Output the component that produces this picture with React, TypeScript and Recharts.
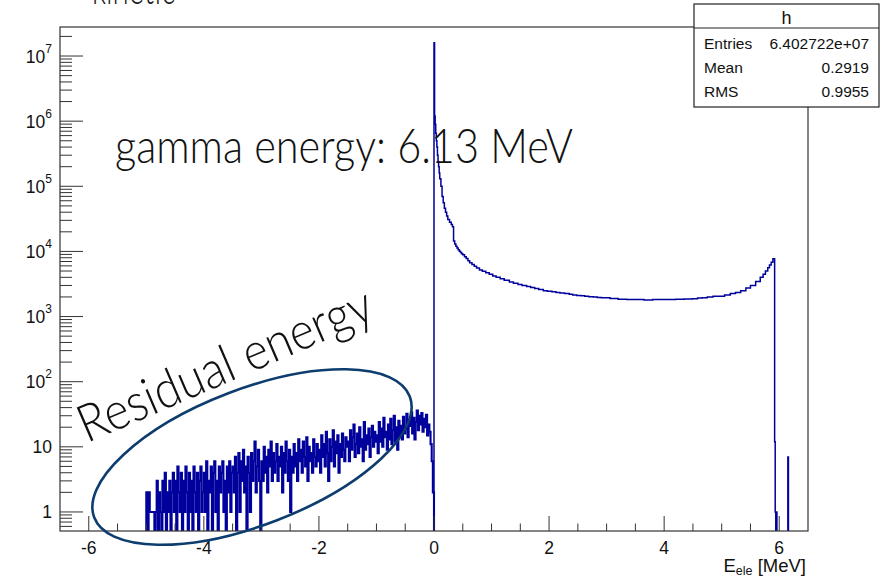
import React from 'react';
import { ComposedChart, Line, XAxis, YAxis } from 'recharts';

const W = 883;
const H = 577;
const PLOT = { left: 60, top: 27, right: 808, bottom: 531 };

// residual side: 0.02 MeV bins starting at -5.00 MeV
const negStart = -5.0;
const negWidth = 0.02;
const negSeg1 = [2, 0, 2, 1, 1, 1, 1, 0, 1, 3, 0, 2, 1, 0, 3, 1, 4, 0, 2, 1, 3, 0, 2, 4, 1];
const negSeg2 = [3, 0, 5, 2, 1, 4, 0, 3, 1, 5, 2, 0, 4, 1, 3, 0, 5, 2, 1, 4, 0, 3, 5, 1, 2];
const negSeg3 = [4, 1, 6, 0, 3, 2, 5, 0, 4, 6, 1, 3, 0, 5, 2, 4, 6, 1, 3, 0, 5, 2, 6, 1, 4];
const negSeg4 = [5, 2, 7, 0, 4, 8, 1, 6, 3, 9, 2, 5, 0, 7, 4, 1, 8, 3, 6, 12, 2, 5, 9, 3, 0];
const negSeg5 = [6, 3, 10, 4, 7, 2, 9, 5, 12, 3, 8, 4, 6, 11, 3, 7, 5, 10, 2, 8, 4, 12, 6, 3, 9];
const negSeg6 = [1, 7, 4, 11, 5, 8, 3, 13, 6, 9, 4, 12, 7, 5, 14, 3, 10, 6, 8, 4, 13, 7, 5, 11, 6];
const negSeg7 = [9, 4, 15, 7, 11, 5, 17, 8, 3, 13, 6, 10, 18, 5, 12, 8, 15, 4, 11, 7, 16, 9, 6, 14, 10];
const negSeg8 = [12, 6, 18, 9, 14, 22, 7, 11, 16, 8, 20, 10, 13, 6, 24, 9, 15, 11, 19, 7, 14, 21, 10, 17, 12];
const negSeg9 = [15, 8, 24, 12, 19, 10, 28, 14, 17, 9, 22, 13, 27, 11, 18, 30, 12, 20, 9, 25, 15, 21, 13, 29, 16];
const negSeg10 = [19, 32, 14, 26, 21, 34, 16, 28, 13, 24, 36, 18, 30, 22, 33, 17, 27, 20, 31, 15, 22, 17, 11, 6, 2];

// electron side: bin lower edge (MeV) and content
const posEdges = [
  0.0, 0.01, 0.02, 0.03, 0.04, 0.05, 0.06, 0.07, 0.08, 0.09, 0.1, 0.12, 0.14, 0.16, 0.18, 0.2,
  0.22, 0.24, 0.27, 0.3, 0.32, 0.34, 0.36, 0.38, 0.4, 0.42, 0.44, 0.46, 0.48, 0.5, 0.53, 0.56,
  0.59, 0.62, 0.66, 0.7, 0.74, 0.79, 0.84, 0.9, 0.96, 1.02, 1.08, 1.15, 1.22, 1.31, 1.38, 1.46,
  1.53, 1.61, 1.68, 1.75, 1.82, 1.9, 1.97, 2.05, 2.12, 2.19, 2.27, 2.35, 2.41, 2.48, 2.55, 2.62,
  2.69, 2.77, 2.84, 2.91, 3.06, 3.2, 3.35, 3.5, 3.65, 3.8, 3.95, 4.08, 4.2, 4.35, 4.49, 4.58,
  4.66, 4.75, 4.85, 4.95, 5.05, 5.15, 5.24, 5.33, 5.42, 5.5, 5.59, 5.67, 5.72, 5.76, 5.8, 5.83,
  5.86, 5.89, 5.92, 5.93, 5.94, 5.95, 5.96, 6.15, 6.16,
];
const posCounts = [
  1.6e7, 1.2e6, 9.0e5, 6.5e5, 5.0e5, 4.0e5, 3.0e5, 2.4e5, 2.0e5, 1.6e5, 1.3e5, 1.0e5, 7.0e4, 5.6e4, 4.6e4, 4.0e4,
  3.5e4, 3.1e4, 2.8e4, 2.6e4, 2.4e4, 1.45e4, 1.3e4, 1.2e4, 11300, 10600, 10100, 9600, 9200, 8900, 8300, 7800,
  7200, 6700, 6300, 5900, 5550, 5200, 4950, 4700, 4450, 4200, 4000, 3800, 3600, 3400, 3250, 3100,
  3000, 2900, 2800, 2700, 2600, 2500, 2450, 2400, 2350, 2300, 2250, 2200, 2150, 2100, 2080, 2050,
  2020, 2000, 1970, 1950, 1900, 1850, 1820, 1820, 1800, 1820, 1820, 1820, 1840, 1860, 1880, 1920,
  1950, 2000, 2050, 2050, 2150, 2250, 2350, 2500, 2750, 3000, 3450, 4000, 4450, 5000, 5600, 6200,
  6800, 7700, 12, 1, 0, 1, 0, 7, 0,
];

const xMajor = [-6, -4, -2, 0, 2, 4, 6];
const xTicks = [-6, -5.5, -5, -4.5, -4, -3.5, -3, -2.5, -2, -1.5, -1, -0.5, 0, 0.5, 1, 1.5, 2, 2.5, 3, 3.5, 4, 4.5, 5, 5.5, 6];
const yMajor = [1, 10, 100, 1e3, 1e4, 1e5, 1e6, 1e7];
const yMinorSteps = [2, 3, 4, 5, 6, 7, 8, 9];
const yLowMinor = [0.6, 0.7, 0.8, 0.9];

const EMPTY = 0.05; // empty bins drop below the log axis

const negCounts = [...negSeg1, ...negSeg2, ...negSeg3, ...negSeg4, ...negSeg5, ...negSeg6, ...negSeg7, ...negSeg8, ...negSeg9, ...negSeg10];
const negData = [
  { e: -6.5, n: EMPTY },
  ...negCounts.map((c, i) => ({ e: +(negStart + i * negWidth).toFixed(2), n: c > 0 ? c : EMPTY })),
  { e: 0, n: EMPTY },
];
const posData = [
  { e: 0, n: EMPTY },
  ...posEdges.map((e, i) => ({ e, n: posCounts[i] > 0 ? posCounts[i] : EMPTY })),
  { e: 6.5, n: EMPTY },
];

const yTicks = [...yLowMinor, ...yMajor, ...yMajor.flatMap(d => yMinorSteps.map(s => s * d))]
  .filter(v => v <= 2.79e7)
  .sort((a, b) => a - b);

const AXIS_FONT = "'Liberation Sans', Arial, Helvetica, sans-serif";
const NOTE_FONT = "'Lato', 'Noto Sans', sans-serif";
const INK = '#333';
const HIST = '#00009c';

const XTick = (props: any) => {
  const { x, payload } = props;
  const v = payload.value;
  const major = xMajor.includes(v);
  return (
    <g>
      <line x1={x} x2={x} y1={PLOT.bottom} y2={PLOT.bottom - (major ? 15 : 7.5)} stroke={INK} strokeWidth={1} />
      {major && (
        <text x={x} y={PLOT.bottom + 23} textAnchor="middle" fontSize={17.5} fontFamily={AXIS_FONT} fill="#111">
          {v}
        </text>
      )}
    </g>
  );
};

const YTick = (props: any) => {
  const { y, payload } = props;
  const v: number = payload.value;
  const major = yMajor.includes(v);
  const exp = Math.round(Math.log10(v));
  return (
    <g>
      <line x1={PLOT.left} x2={PLOT.left + (major ? 23 : 12)} y1={y} y2={y} stroke={INK} strokeWidth={1} />
      {major && (
        <text x={52} y={y + 6.5} textAnchor="end" fontSize={17.5} fontFamily={AXIS_FONT} fill="#111">
          {exp <= 1 ? String(v) : '10'}
          {exp > 1 && (
            <tspan dy={-10} fontSize={12}>
              {exp}
            </tspan>
          )}
        </text>
      )}
    </g>
  );
};

function Overlay() {
  return (
    <svg width={W} height={H} style={{ position: 'absolute', left: 0, top: 0, pointerEvents: 'none' }}>
      <text x={92} y={4} fontSize={46} fontWeight={300} fontFamily={NOTE_FONT} fill="#222" textLength={83} lengthAdjust="spacingAndGlyphs">
        kinetic
      </text>
      <rect x={PLOT.left} y={PLOT.top} width={PLOT.right - PLOT.left} height={PLOT.bottom - PLOT.top} fill="none" stroke={INK} strokeWidth={1.2} />
      <text x={115} y={163} fontSize={47} fontWeight={300} fontFamily={NOTE_FONT} fill="#111" textLength={458} lengthAdjust="spacingAndGlyphs">
        gamma energy: 6.13 MeV
      </text>
      <text
        x={86.7}
        y={443.3}
        fontSize={52}
        fontWeight={300}
        fontFamily={NOTE_FONT}
        fill="#111"
        textLength={316}
        lengthAdjust="spacingAndGlyphs"
        transform="rotate(-23.3 86.7 443.3)"
      >
        Residual energy
      </text>
      <ellipse cx={252} cy={457} rx={169} ry={68} transform="rotate(-21 252 457)" fill="none" stroke="#0d3c6e" strokeWidth={2.6} />

      <g fontFamily={AXIS_FONT} fill="#111">
        <rect x={694} y={4} width={185} height={103} fill="#fff" stroke="#222" strokeWidth={1.2} />
        <line x1={694} x2={879} y1={28} y2={28} stroke="#222" strokeWidth={1.2} />
        <text x={786.5} y={24} fontSize={18} textAnchor="middle">h</text>
        <text x={704} y={49} fontSize={15.5}>Entries</text>
        <text x={869} y={49} fontSize={15.5} textAnchor="end">6.402722e+07</text>
        <text x={704} y={73} fontSize={15.5}>Mean</text>
        <text x={869} y={73} fontSize={15.5} textAnchor="end">0.2919</text>
        <text x={704} y={97} fontSize={15.5}>RMS</text>
        <text x={869} y={97} fontSize={15.5} textAnchor="end">0.9955</text>
        <text x={806} y={571.5} fontSize={18.5} textAnchor="end">
          E<tspan dy={3.5} fontSize={12.5}>ele</tspan>
          <tspan dy={-3.5}> [MeV]</tspan>
        </text>
      </g>
    </svg>
  );
}

export default function App() {
  return (
    <div style={{ position: 'absolute', left: 0, top: 0, width: W, height: H, background: '#fff' }}>
      <ComposedChart width={W} height={H} margin={{ top: PLOT.top, right: W - PLOT.right, bottom: 0, left: 0 }}>
        <XAxis
          dataKey="e"
          type="number"
          domain={[-6.5, 6.5]}
          allowDataOverflow
          ticks={xTicks}
          interval={0}
          tick={XTick}
          tickLine={false}
          axisLine={false}
          tickSize={0}
          tickMargin={0}
          height={H - PLOT.bottom}
        />
        <YAxis
          type="number"
          scale="log"
          domain={[0.51, 2.79e7]}
          allowDataOverflow
          ticks={yTicks}
          interval={0}
          tick={YTick}
          tickLine={false}
          axisLine={false}
          tickSize={0}
          tickMargin={0}
          width={PLOT.left}
        />
        <Line
          data={negData}
          dataKey="n"
          type="stepAfter"
          stroke={HIST}
          strokeWidth={2.1}
          dot={false}
          activeDot={false}
          isAnimationActive={false}
        />
        <Line
          data={posData}
          dataKey="n"
          type="stepAfter"
          stroke={HIST}
          strokeWidth={1.5}
          dot={false}
          activeDot={false}
          isAnimationActive={false}
        />
      </ComposedChart>
      <Overlay />
    </div>
  );
}
